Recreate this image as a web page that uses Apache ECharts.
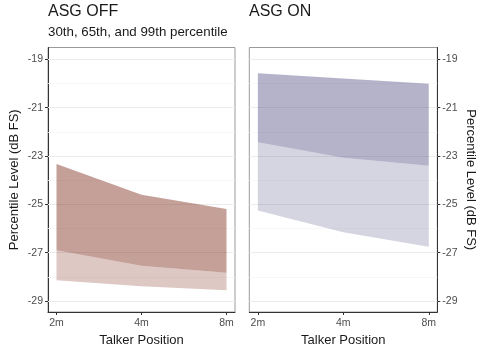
<!DOCTYPE html>
<html>
<head>
<meta charset="utf-8">
<script src="https://cdn.jsdelivr.net/npm/echarts@6/dist/echarts.min.js"></script>
<style>
  html, body { margin: 0; padding: 0; background: #fff; }
  #chart { width: 485px; height: 352px; }
</style>
</head>
<body>
<div id="chart"></div>
<script>
var positions = ['2m', '4m', '8m'];
var posIndex = [1, 2, 3];
var yTicks = [-29, -27, -25, -23, -21, -19];
var yMinor = [-28, -26, -24, -22, -20];

// ASG OFF percentiles (dB FS)
var offP30 = [-28.14, -28.39, -28.55];
var offP65 = [-26.90, -27.54, -27.83];
var offP99 = [-23.33, -24.60, -25.19];

// ASG ON percentiles (dB FS)
var onP30 = [-25.26, -26.16, -26.75];
var onP65 = [-22.43, -23.07, -23.40];
var onP99 = [-19.58, -19.79, -20.01];

var chart = echarts.init(document.getElementById('chart'));

function bandData(lo, hi) {
    return posIndex.map(function (x, i) { return [x, lo[i], hi[i]]; });
}

function bandRenderer(color) {
    return function (params, api) {
        if (params.dataIndexInside !== 0) return;
        var n = params.dataInsideLength;
        var top = [], bot = [];
        for (var i = 0; i < n; i++) {
            top.push(api.coord([api.value(0, i), api.value(2, i)]));
            bot.push(api.coord([api.value(0, i), api.value(1, i)]));
        }
        return {
            type: 'polygon',
            shape: { points: top.concat(bot.reverse()) },
            style: { fill: color }
        };
    };
}

function band(idx, lo, hi, color) {
    return {
        type: 'custom',
        xAxisIndex: idx,
        yAxisIndex: idx,
        z: 5,
        silent: true,
        renderItem: bandRenderer(color),
        encode: { x: 0, y: [1, 2] },
        data: bandData(lo, hi)
    };
}

function gridLines(idx) {
    var lines = yTicks.map(function (v) {
        return { yAxis: v, lineStyle: { color: '#ebebeb', width: 1.1, type: 'solid' } };
    }).concat(yMinor.map(function (v) {
        return { yAxis: v, lineStyle: { color: '#f5f5f5', width: 0.8, type: 'solid' } };
    }));
    return {
        type: 'line',
        xAxisIndex: idx,
        yAxisIndex: idx,
        z: 1,
        data: [],
        markLine: {
            z: 1,
            silent: true,
            animation: false,
            symbol: ['none', 'none'],
            label: { show: false },
            data: lines
        }
    };
}

function xAxis(idx) {
    return {
        gridIndex: idx,
        type: 'value',
        min: 0.9,
        max: 3.1,
        name: 'Talker Position',
        nameLocation: 'middle',
        nameGap: 18,
        nameTextStyle: { fontSize: 13, color: '#1a1a1a' },
        axisLine: { show: true, onZero: false, lineStyle: { color: '#333', width: 1 } },
        axisTick: { show: true, customValues: posIndex, length: 3, lineStyle: { color: '#333' } },
        axisLabel: {
            customValues: posIndex,
            fontSize: 10.5,
            color: '#4d4d4d',
            margin: 6,
            formatter: function (v) { return positions[posIndex.indexOf(v)]; }
        },
        splitLine: { show: false }
    };
}

function yAxis(idx, pos) {
    return {
        gridIndex: idx,
        type: 'value',
        position: pos,
        min: -29.455,
        max: -18.51,
        name: 'Percentile Level (dB FS)',
        nameLocation: 'middle',
        nameRotate: pos === 'left' ? 90 : -90,
        nameGap: 27,
        nameTextStyle: { fontSize: 13, color: '#1a1a1a' },
        axisLine: { show: true, onZero: false, lineStyle: { color: '#333', width: 1 } },
        axisTick: { show: true, customValues: yTicks, length: 3, lineStyle: { color: '#333' } },
        axisLabel: { customValues: yTicks, fontSize: 10.5, color: '#4d4d4d', margin: 5 },
        splitLine: { show: false }
    };
}

var option = {
    animation: false,
    textStyle: { fontFamily: 'Liberation Sans, Arial, sans-serif' },
    title: [
        { text: 'ASG OFF', left: 48, top: 4, padding: 0,
          textStyle: { fontSize: 16, fontWeight: 'normal', color: '#1a1a1a' } },
        { text: '30th, 65th, and 99th percentile', left: 48, top: 26, padding: 0,
          textStyle: { fontSize: 13.3, fontWeight: 'normal', color: '#1a1a1a' } },
        { text: 'ASG ON', left: 249, top: 4, padding: 0,
          textStyle: { fontSize: 16, fontWeight: 'normal', color: '#1a1a1a' } }
    ],
    grid: [
        { left: 48, top: 47.5, width: 187, height: 264.5, show: true, borderColor: '#9a9a9a', borderWidth: 1 },
        { left: 249.3, top: 47.5, width: 188, height: 264.5, show: true, borderColor: '#9a9a9a', borderWidth: 1 }
    ],
    xAxis: [xAxis(0), xAxis(1)],
    yAxis: [yAxis(0, 'left'), yAxis(1, 'right')],
    series: [
        gridLines(0),
        gridLines(1),
        band(0, offP30, offP65, 'rgba(119, 35, 19, 0.25)'),
        band(0, offP65, offP99, 'rgba(119, 35, 19, 0.43)'),
        band(1, onP30, onP65, 'rgba(87, 83, 135, 0.25)'),
        band(1, onP65, onP99, 'rgba(87, 83, 135, 0.44)')
    ]
};

chart.setOption(option);
</script>
</body>
</html>
